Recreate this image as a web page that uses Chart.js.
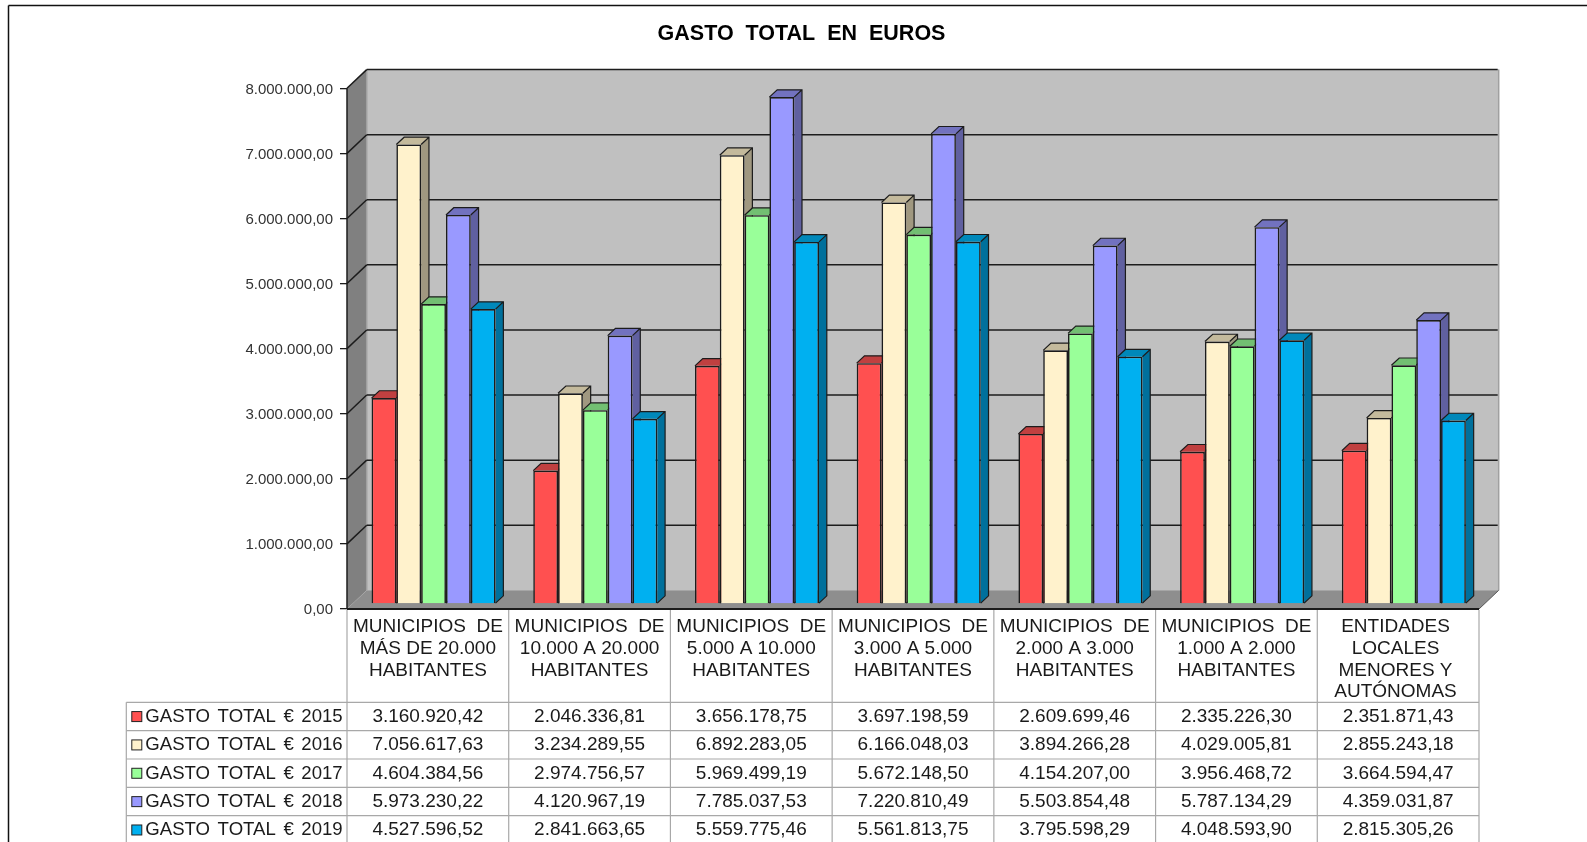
<!doctype html>
<html lang="es">
<head>
<meta charset="utf-8">
<title>GASTO TOTAL EN EUROS</title>
<script src="https://cdn.jsdelivr.net/npm/chart.js@4/dist/chart.umd.min.js"></script>
<style>
	html, body { margin: 0; padding: 0; background: #fff; overflow: hidden; }
	canvas { display: block; }
</style>
</head>
<body>
<canvas id="grafico" width="1587" height="842"></canvas>
<script>
// data
const titulo = 'GASTO  TOTAL  EN  EUROS';
const categorias = [
	['MUNICIPIOS  DE', 'MÁS DE 20.000', 'HABITANTES'],
	['MUNICIPIOS  DE', '10.000 A 20.000', 'HABITANTES'],
	['MUNICIPIOS  DE', '5.000 A 10.000', 'HABITANTES'],
	['MUNICIPIOS  DE', '3.000 A 5.000', 'HABITANTES'],
	['MUNICIPIOS  DE', '2.000 A 3.000', 'HABITANTES'],
	['MUNICIPIOS  DE', '1.000 A 2.000', 'HABITANTES'],
	['ENTIDADES ', 'LOCALES ', 'MENORES Y ', 'AUTÓNOMAS ']
];
const series = ['GASTO TOTAL € 2015', 'GASTO TOTAL € 2016', 'GASTO TOTAL € 2017', 'GASTO TOTAL € 2018', 'GASTO TOTAL € 2019'];
const gasto2015 = [3160920.42, 2046336.81, 3656178.75, 3697198.59, 2609699.46, 2335226.30, 2351871.43];
const gasto2016 = [7056617.63, 3234289.55, 6892283.05, 6166048.03, 3894266.28, 4029005.81, 2855243.18];
const gasto2017 = [4604384.56, 2974756.57, 5969499.19, 5672148.50, 4154207.00, 3956468.72, 3664594.47];
const gasto2018 = [5973230.22, 4120967.19, 7785037.53, 7220810.49, 5503854.48, 5787134.29, 4359031.87];
const gasto2019 = [4527596.52, 2841663.65, 5559775.46, 5561813.75, 3795598.29, 4048593.90, 2815305.26];
const valores = [gasto2015, gasto2016, gasto2017, gasto2018, gasto2019];

const colores = ['#FF5050', '#FFF2CC', '#99FF99', '#9999FF', '#00B0F0'];
const coloresTapa = ['#C04040', '#C4BA9C', '#72BF72', '#7272BF', '#0088BA'];
const coloresLado = ['#A03535', '#A09880', '#5F9F5F', '#6060A0', '#00709C'];

const fondoX = 19.7, fondoY = 18.7;   // depth of the box
const barraX = 5.7, barraY = 5.2;     // bars stand a little inside the floor
const ladoX = 7.8, ladoY = 7.3;       // depth of one bar
const filaAlto = 28.35, filaTop = 702.3, tablaIzq = 126.3;
const linea = '#1c1c1c', lineaTabla = '#a8a8a8', texto = '#1a1a1a';
const fuente = '"Liberation Sans", Arial, sans-serif';

function numeroES(v) {
	const p = v.toFixed(2).split('.');
	return p[0].replace(/\B(?=(\d{3})+$)/g, '.') + ',' + p[1];
}

function poligono(ctx, puntos, relleno) {
	ctx.beginPath();
	puntos.forEach((p, i) => i ? ctx.lineTo(p[0], p[1]) : ctx.moveTo(p[0], p[1]));
	ctx.closePath();
	ctx.fillStyle = relleno;
	ctx.fill();
}

function segmento(ctx, x1, y1, x2, y2) {
	ctx.beginPath();
	ctx.moveTo(x1, y1);
	ctx.lineTo(x2, y2);
	ctx.stroke();
}

// title is centred on the outer frame and not on the canvas
const moverTitulo = {
	id: 'moverTitulo',
	afterLayout(chart) {
		chart.titleBlock.left = 16;
		chart.titleBlock.right = 1587;
	}
};

const caja3d = {
	id: 'caja3d',
	beforeDraw(chart) {
		const ctx = chart.ctx, a = chart.chartArea, y = chart.scales.y;
		const L = a.left, R = a.right, T = a.top, B = a.bottom;
		ctx.save();
		// outer frame
		ctx.strokeStyle = '#111';
		ctx.lineWidth = 1.5;
		segmento(ctx, 8.5, 842, 8.5, 5.5);
		segmento(ctx, 8.5, 5.5, 1587, 5.5);
		// walls
		poligono(ctx, [[L + fondoX, T - fondoY], [R + fondoX, T - fondoY], [R + fondoX, B - fondoY], [L + fondoX, B - fondoY]], '#C0C0C0');
		poligono(ctx, [[L, T], [L + fondoX, T - fondoY], [L + fondoX, B - fondoY], [L, B]], '#808080');
		poligono(ctx, [[L, B], [L + fondoX, B - fondoY], [R + fondoX, B - fondoY], [R, B]], '#8E8E8E');
		ctx.strokeStyle = '#A0A0A0';
		ctx.lineWidth = 1.5;
		segmento(ctx, R + fondoX, T - fondoY, R + fondoX, B - fondoY);
		segmento(ctx, L + fondoX, T - fondoY, L + fondoX, B - fondoY);
		// grid lines run over both walls
		ctx.strokeStyle = linea;
		y.ticks.forEach(t => {
			const py = y.getPixelForValue(t.value);
			if (t.value > 0) {
				segmento(ctx, L, py, L + fondoX, py - fondoY);
				segmento(ctx, L + fondoX, py - fondoY, R + fondoX - 1, py - fondoY);
			}
		});
		segmento(ctx, L, T, L, B);
		ctx.lineWidth = 2;
		segmento(ctx, L, B, R, B);
		ctx.strokeStyle = '#555';
		ctx.lineWidth = 1;
		segmento(ctx, R, B, R + fondoX, B - fondoY);
		ctx.restore();
	},
	beforeDatasetsDraw(chart) {
		// left to right, so that each bar covers the side of the one before it
		const ctx = chart.ctx;
		ctx.save();
		ctx.translate(barraX, -barraY);
		valores.forEach((serie, i) => {
			chart.getDatasetMeta(i).data.forEach(barra => {
				const b = barra.getProps(['x', 'y', 'base', 'width'], true);
				const izq = b.x - b.width / 2, der = b.x + b.width / 2;
				poligono(ctx, [[der, b.y], [der + ladoX, b.y - ladoY], [der + ladoX, b.base - ladoY], [der, b.base]], coloresLado[i]);
				poligono(ctx, [[izq, b.y], [izq + ladoX, b.y - ladoY], [der + ladoX, b.y - ladoY], [der, b.y]], coloresTapa[i]);
				ctx.strokeStyle = linea;
				ctx.lineWidth = 1.2;
				ctx.beginPath();
				ctx.moveTo(izq, b.y);
				ctx.lineTo(izq + ladoX, b.y - ladoY);
				ctx.lineTo(der + ladoX, b.y - ladoY);
				ctx.lineTo(der + ladoX, b.base - ladoY);
				ctx.lineTo(der, b.base);
				ctx.moveTo(der, b.y);
				ctx.lineTo(der + ladoX, b.y - ladoY);
				ctx.stroke();
				barra.draw(ctx);
			});
		});
		ctx.restore();
		return false;
	}
};

const tablaDatos = {
	id: 'tablaDatos',
	afterDraw(chart) {
		const ctx = chart.ctx, a = chart.chartArea, x = chart.scales.x;
		const ancho = (a.right - a.left) / categorias.length;
		ctx.save();
		ctx.strokeStyle = lineaTabla;
		ctx.lineWidth = 1.2;
		for (let c = 0; c <= categorias.length; c++) {
			const px = x.getPixelForValue(0) - ancho / 2 + c * ancho;
			segmento(ctx, px, a.bottom + 1, px, 842);
		}
		segmento(ctx, tablaIzq, filaTop, tablaIzq, 842);
		for (let f = 0; f < series.length; f++) {
			const py = filaTop + f * filaAlto;
			segmento(ctx, tablaIzq, py, a.right, py);
		}
		ctx.textBaseline = 'middle';
		series.forEach((nombre, f) => {
			const cy = filaTop + f * filaAlto + filaAlto / 2 + 0.3;
			ctx.fillStyle = colores[f];
			ctx.fillRect(131.8, cy - 5.2, 10, 10);
			ctx.strokeStyle = '#222';
			ctx.lineWidth = 1;
			ctx.strokeRect(131.8, cy - 5.2, 10, 10);
			ctx.fillStyle = texto;
			ctx.textAlign = 'left';
			ctx.font = '18.6px ' + fuente;
			ctx.wordSpacing = '2.4px';
			ctx.fillText(nombre, 145.3, cy);
			ctx.wordSpacing = '0px';
			ctx.textAlign = 'center';
			ctx.font = '19px ' + fuente;
			valores[f].forEach((v, c) => ctx.fillText(numeroES(v), x.getPixelForValue(c), cy));
		});
		ctx.restore();
	}
};

new Chart(document.getElementById('grafico'), {
	type: 'bar',
	data: {
		labels: categorias,
		datasets: valores.map((serie, i) => ({
			label: series[i],
			data: serie,
			backgroundColor: colores[i],
			borderColor: linea,
			borderWidth: 1.6
		}))
	},
	plugins: [moverTitulo, caja3d, tablaDatos],
	options: {
		responsive: false,
		animation: false,
		layout: { padding: { left: 0, right: 108, top: 0, bottom: 0 } },
		categoryPercentage: 0.767,
		barPercentage: 1,
		plugins: {
			legend: { display: false },
			tooltip: { enabled: false },
			title: {
				display: true,
				text: titulo,
				color: '#000',
				font: { family: fuente, size: 21.5, weight: 'bold', lineHeight: 1.2 },
				padding: { top: 21.4, bottom: 41.1 }
			}
		},
		scales: {
			x: {
				afterFit(s) { s.height = 233; },
				grid: { display: false },
				border: { display: false },
				ticks: {
					autoSkip: false,
					maxRotation: 0,
					minRotation: 0,
					padding: -1,
					color: texto,
					font: { family: fuente, size: 19, lineHeight: 1.145 }
				}
			},
			y: {
				min: 0,
				max: 8000000,
				afterFit(s) { s.width = 347; },
				border: { display: false },
				grid: { drawOnChartArea: false, color: linea, tickLength: 7, lineWidth: 1.3 },
				ticks: {
					stepSize: 1000000,
					padding: 7,
					labelOffset: 1.2,
					color: '#333',
					font: { family: fuente, size: 15 },
					callback: v => numeroES(v)
				}
			}
		}
	}
});
</script>
</body>
</html>
